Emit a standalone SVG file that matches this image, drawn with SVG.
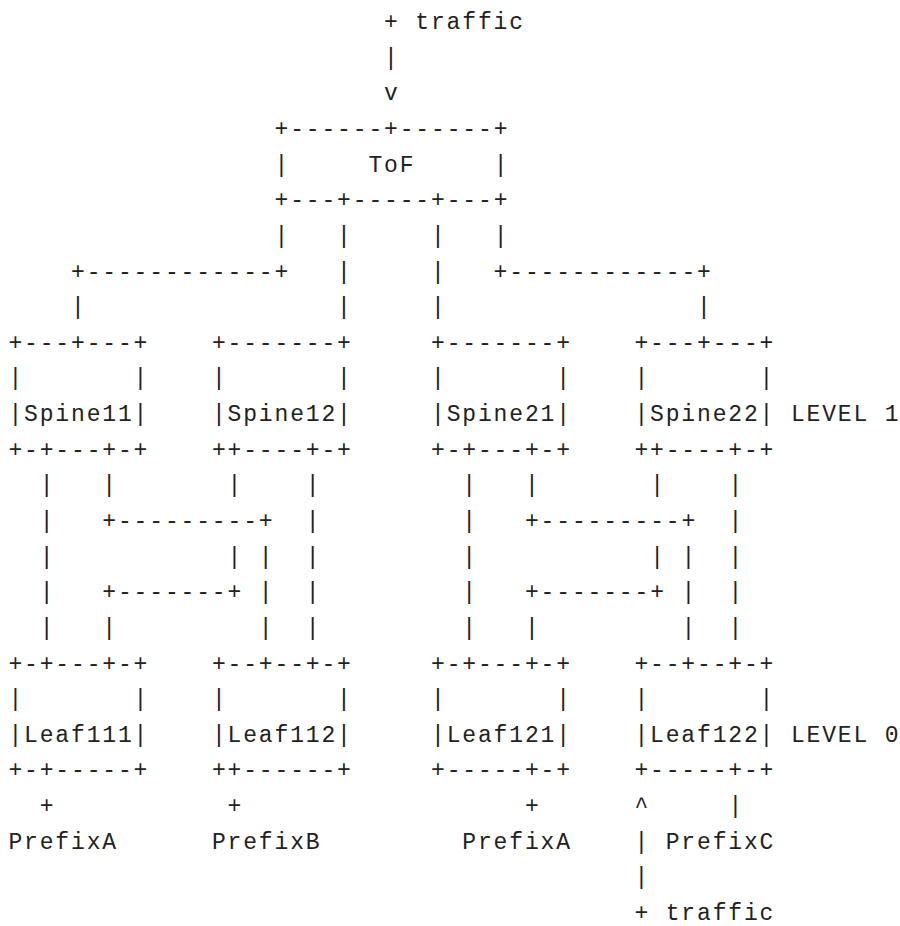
<svg xmlns="http://www.w3.org/2000/svg" width="900" height="926" viewBox="0 0 900 926" xml:space="preserve">
<style>
text{font-family:"Liberation Mono","DejaVu Sans Mono",monospace;font-size:23px;letter-spacing:1.85px;fill:#222;white-space:pre}
</style>
<rect width="900" height="926" fill="#ffffff"/>
<g transform="translate(-0.3,0)">
<g id="ToF">
<text x="274.8" y="135.9">+------+------+</text>
<text x="274.8" y="171.6">|     ToF     |</text>
<text x="274.8" y="207.2">+---+-----+---+</text>
</g>
<g id="Spine11">
<text x="8.7" y="349.8">+---+---+</text>
<text x="8.7" y="385.4">|       |</text>
<text x="8.7" y="421.0">|Spine11|</text>
<text x="8.7" y="456.7">+-+---+-+</text>
</g>
<g id="Spine12">
<text x="212.2" y="349.8">+-------+</text>
<text x="212.2" y="385.4">|       |</text>
<text x="212.2" y="421.0">|Spine12|</text>
<text x="212.2" y="456.7">++----+-+</text>
</g>
<g id="Spine21">
<text x="431.3" y="349.8">+-------+</text>
<text x="431.3" y="385.4">|       |</text>
<text x="431.3" y="421.0">|Spine21|</text>
<text x="431.3" y="456.7">+-+---+-+</text>
</g>
<g id="Spine22">
<text x="634.7" y="349.8">+---+---+</text>
<text x="634.7" y="385.4">|       |</text>
<text x="634.7" y="421.0">|Spine22|</text>
<text x="634.7" y="456.7">++----+-+</text>
</g>
<g id="Leaf111">
<text x="8.7" y="670.5">+-+---+-+</text>
<text x="8.7" y="706.2">|       |</text>
<text x="8.7" y="741.8">|Leaf111|</text>
<text x="8.7" y="777.4">+-+-----+</text>
</g>
<g id="Leaf112">
<text x="212.2" y="670.5">+--+--+-+</text>
<text x="212.2" y="706.2">|       |</text>
<text x="212.2" y="741.8">|Leaf112|</text>
<text x="212.2" y="777.4">++------+</text>
</g>
<g id="Leaf121">
<text x="431.3" y="670.5">+-+---+-+</text>
<text x="431.3" y="706.2">|       |</text>
<text x="431.3" y="741.8">|Leaf121|</text>
<text x="431.3" y="777.4">+-----+-+</text>
</g>
<g id="Leaf122">
<text x="634.7" y="670.5">+--+--+-+</text>
<text x="634.7" y="706.2">|       |</text>
<text x="634.7" y="741.8">|Leaf122|</text>
<text x="634.7" y="777.4">+-----+-+</text>
</g>
<g id="connectors">
<text x="384.3" y="64.6">|</text>
<text x="384.3" y="100.3">v</text>
<text x="274.8" y="242.8">|   |     |   |</text>
<text x="71.3" y="278.5">+------------+   |     |   +------------+</text>
<text x="71.3" y="314.1">|                |     |                |</text>
<text x="40.0" y="492.3">|   |       |    |         |   |       |    |</text>
<text x="40.0" y="528.0">|   +---------+  |         |   +---------+  |</text>
<text x="40.0" y="563.6">|           | |  |         |           | |  |</text>
<text x="40.0" y="599.2">|   +-------+ |  |         |   +-------+ |  |</text>
<text x="40.0" y="634.9">|   |         |  |         |   |         |  |</text>
<text x="40.0" y="813.1">+           +                  +      ^     |</text>
<text x="634.7" y="848.7">|</text>
<text x="634.7" y="884.4">|</text>
</g>
<g id="labels">
<text x="384.3" y="29.0">+ traffic</text>
<text x="791.2" y="421.0">LEVEL 1</text>
<text x="791.2" y="741.8">LEVEL 0</text>
<text x="8.7" y="848.7">PrefixA</text>
<text x="212.2" y="848.7">PrefixB</text>
<text x="462.6" y="848.7">PrefixA</text>
<text x="666.0" y="848.7">PrefixC</text>
<text x="634.7" y="920.0">+ traffic</text>
</g>
</g>
</svg>
